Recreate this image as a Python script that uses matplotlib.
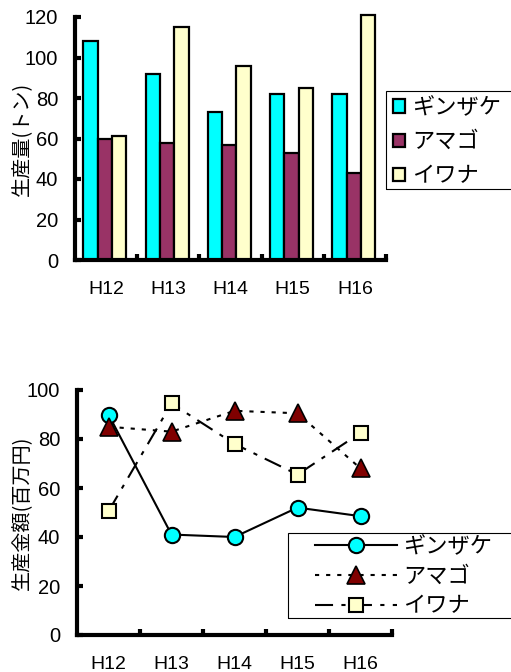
import numpy as np
import matplotlib.pyplot as plt
from matplotlib.patches import Rectangle

plt.rcParams['font.family'] = ['Liberation Sans', 'Noto Sans CJK JP', 'DejaVu Sans']
plt.rcParams['lines.scale_dashes'] = False

years = ['H12', 'H13', 'H14', 'H15', 'H16']
species = ['ギンザケ', 'アマゴ', 'イワナ']

# 生産量(トン)
ginzake_t = [108, 92, 73, 82, 82]
amago_t = [60, 58, 57, 53, 43]
iwana_t = [61, 115, 96, 85, 121]

# 生産金額(百万円)
ginzake_m = [90, 41, 40, 52, 48.5]
amago_m = [85, 83, 91.5, 90.5, 68]
iwana_m = [50.5, 94.5, 78, 65.5, 82.5]

bar_colors = ['#00FFFF', '#993366', '#FFFFCC']
jp = {'family': 'Noto Sans CJK JP', 'size': 16}

fig = plt.figure(figsize=(5.11, 6.72), dpi=100)
W, H = 511, 672


def px_axes(x0, y0, x1, y1):
    return fig.add_axes([x0 / W, 1 - y1 / H, (x1 - x0) / W, (y1 - y0) / H])


def px_box(x0, y0, x1, y1):
    # 凡例の枠 (ピクセル指定)
    fig.patches.append(Rectangle((x0 / W, 1 - y1 / H), (x1 - x0) / W, (y1 - y0) / H,
                                 transform=fig.transFigure, fill=False,
                                 edgecolor='black', linewidth=0.8))


def style_axes(ax, ymax, step):
    x = np.arange(len(years))
    for s in ['top', 'right']:
        ax.spines[s].set_visible(False)
    for s in ['left', 'bottom']:
        ax.spines[s].set_linewidth(3)
    ax.set_xlim(-0.5, len(years) - 0.5)
    ax.set_ylim(0, ymax)
    ax.set_yticks(np.arange(0, ymax + 1, step))
    ax.set_xticks(x)
    ax.set_xticklabels(years)
    ax.set_xticks(x + 0.5, minor=True)
    ax.tick_params(axis='x', which='major', length=0, pad=15, labelsize=14)
    ax.tick_params(axis='x', which='minor', direction='in', length=4, width=3)
    ax.tick_params(axis='y', direction='in', length=4, width=3, pad=12, labelsize=14.5)


# 上段: 棒グラフ
ax1 = px_axes(75, 17, 386, 260)
x = np.arange(len(years))
w = 0.23
for i, (vals, c) in enumerate(zip([ginzake_t, amago_t, iwana_t], bar_colors)):
    ax1.bar(x + (i - 1) * w - 0.02, vals, w, color=c, edgecolor='black',
            linewidth=1.6, label=species[i], clip_on=False, zorder=2)
style_axes(ax1, 120, 20)
ax1.set_ylabel('生産量(トン)', fontsize=14.5, family=['Noto Sans CJK JP'])
ax1.yaxis.set_label_coords(-0.135, 0.5)
ax1.legend(loc='upper left', bbox_to_anchor=(393 / W, 1 - 96 / H),
           bbox_transform=fig.transFigure, prop=jp,
           handlelength=0.55, handleheight=0.55, handletextpad=0.3,
           labelspacing=0.5, borderpad=0, borderaxespad=0, frameon=False)
px_box(386, 91, 520, 189)

# 下段: 折れ線グラフ
ax2 = px_axes(77, 390, 392, 635)
ax2.plot(x, ginzake_m, color='black', lw=1.5, marker='o', markersize=11,
         markerfacecolor='#00FFFF', markeredgecolor='black', markeredgewidth=1.5,
         label=species[0], clip_on=False, zorder=3)
ax2.plot(x, amago_m, color='black', lw=1.5, dashes=(3, 5), marker='^',
         markersize=13, markerfacecolor='#800000', markeredgecolor='black',
         markeredgewidth=1.2, label=species[1], clip_on=False, zorder=3)
ax2.plot(x, iwana_m, color='black', lw=1.5, dashes=(13, 6, 3, 6), marker='s',
         markersize=10, markerfacecolor='#FFFFCC', markeredgecolor='black',
         markeredgewidth=1.5, label=species[2], clip_on=False, zorder=3)
style_axes(ax2, 100, 20)
ax2.set_ylabel('生産金額(百万円)', fontsize=14.5, family=['Noto Sans CJK JP'])
ax2.yaxis.set_label_coords(-0.14, 0.5)
ax2.legend(loc='upper left', bbox_to_anchor=(315 / W, 1 - 535 / H),
           bbox_transform=fig.transFigure, prop=jp,
           handlelength=3.7, handletextpad=0.25, labelspacing=0.3,
           borderpad=0, borderaxespad=0, frameon=False)
px_box(288, 533, 520, 618)

fig.savefig('out.png', dpi=100)
